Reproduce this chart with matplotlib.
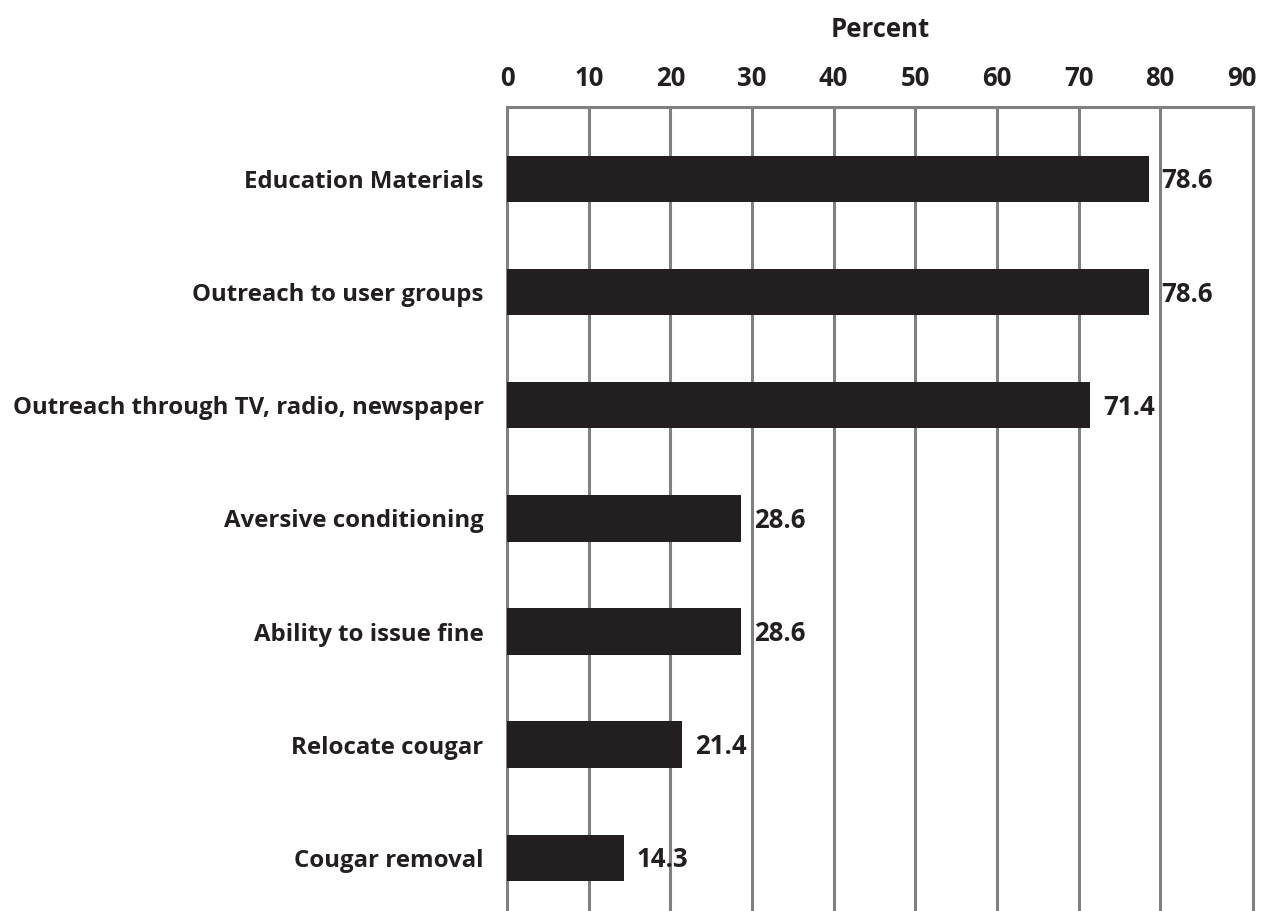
import matplotlib
matplotlib.use("Agg")
import matplotlib.pyplot as plt

# data
categories = ['Education Materials', 'Outreach to user groups',
              'Outreach through TV, radio, newspaper', 'Aversive conditioning',
              'Ability to issue fine', 'Relocate cougar', 'Cougar removal']
percents = [78.6, 78.6, 71.4, 28.6, 28.6, 21.4, 14.3]
x_ticks = [0, 10, 20, 30, 40, 50, 60, 70, 80, 90]

plt.rcParams['font.family'] = ['Open Sans', 'DejaVu Sans']
dark = '#231f20'
grid = '#808080'

fig = plt.figure(figsize=(12.71, 9.11), dpi=100)
ax = fig.add_axes([0.399, 0.0, 0.587, 0.8826])

ypos = list(range(len(categories)))
ax.barh(ypos, percents, height=0.41, color=dark, zorder=3)

# value labels just past the bar ends
for y, v in zip(ypos, percents):
    ax.annotate(f'{v:.1f}', (v, y), xytext=(13, -2), textcoords='offset pixels',
                ha='left', va='center', fontsize=18.5, fontweight='bold', color=dark, zorder=4)

ax.set_xlim(0, 91.4)
ax.set_ylim(6.47, -0.636)
ax.set_xticks(x_ticks)
ax.set_xticklabels([str(t) for t in x_ticks])
ax.set_yticks(ypos)
ax.set_yticklabels(categories)

ax.xaxis.tick_top()
ax.xaxis.set_label_position('top')
ax.set_xlabel('Percent', fontsize=18.5, fontweight='bold', color=dark, labelpad=20)
ax.tick_params(axis='x', length=0, pad=11, labelsize=18.5, labelcolor=dark)
ax.tick_params(axis='y', length=0, pad=17, labelsize=17.3, labelcolor=dark)
for lbl in ax.get_xticklabels() + ax.get_yticklabels():
    lbl.set_fontweight('bold')

# vertical grid lines at 10..80 (no line at 90, the frame closes just past it)
for t in x_ticks[1:-1]:
    ax.axvline(t, color=grid, linewidth=2.2, zorder=1)
for side in ['left', 'top', 'right']:
    ax.spines[side].set_color(grid)
    ax.spines[side].set_linewidth(2.2)
ax.spines['bottom'].set_visible(False)

fig.savefig('out.png', dpi=100)
